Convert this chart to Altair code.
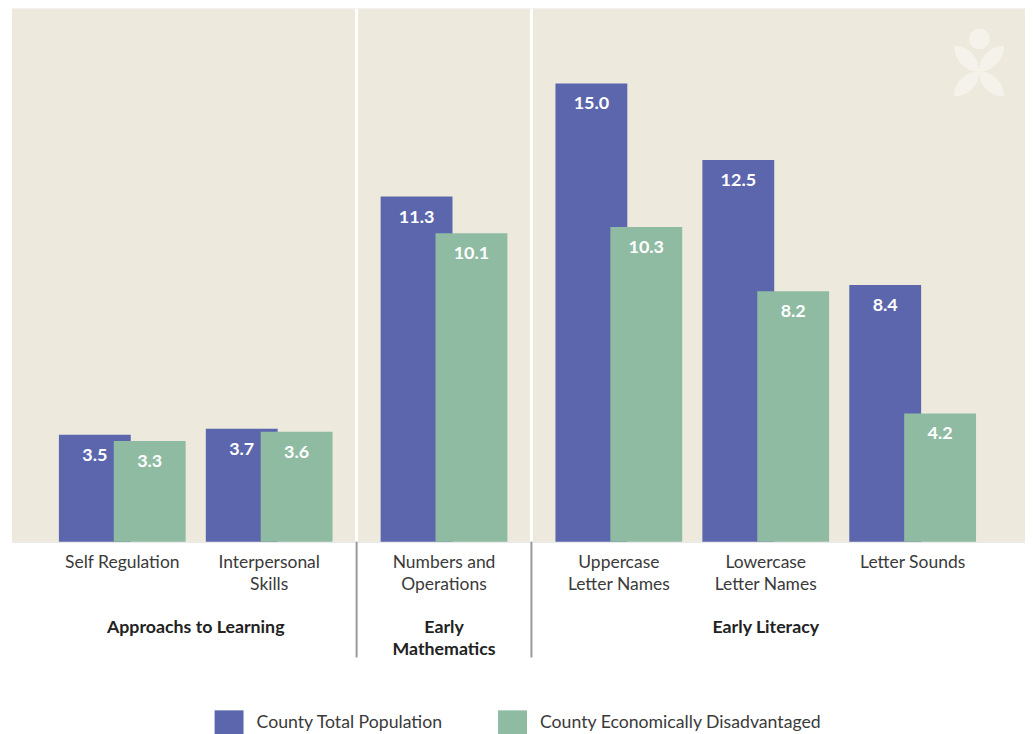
import altair as alt
import pandas as pd

# ---------------- data ----------------
categories = ["Self Regulation", "Interpersonal\nSkills", "Numbers and\nOperations",
              "Uppercase\nLetter Names", "Lowercase\nLetter Names", "Letter Sounds"]
category_group = [0, 0, 1, 2, 2, 2]
groups = ["Approachs to Learning", "Early\nMathematics", "Early Literacy"]
series_names = ["County Total Population", "County Economically Disadvantaged"]
total_pop = [3.5, 3.7, 11.3, 15.0, 12.5, 8.4]
econ_dis = [3.3, 3.6, 10.1, 10.3, 8.2, 4.2]
colors = ["#5c66ad", "#8fbba3"]

BG = "#edeadd"
LOGO = "#f4f2ea"
W, H = 1015, 534
GROUP_GAP = 0.19
X_DOMAIN = [-0.7507, 6.1447]
Y_DOMAIN = [0, 17.45]
FONT = "Lato"

pos = [i + GROUP_GAP * g for i, g in enumerate(category_group)]

rows = []
for c, p, g, a, b in zip(categories, pos, category_group, total_pop, econ_dis):
    rows.append({"cat": c, "pos": p, "series": series_names[0], "value": a})
    rows.append({"cat": c, "pos": p, "series": series_names[1], "value": b})
df = pd.DataFrame(rows)

cat_df = pd.DataFrame({"cat": categories, "pos": pos})
grp_pos = [sum(p for p, g in zip(pos, category_group) if g == k) /
           sum(1 for g in category_group if g == k) for k in range(len(groups))]
grp_df = pd.DataFrame({"grp": groups, "pos": grp_pos})
bounds = []
for k in range(len(groups) - 1):
    last = max(p for p, g in zip(pos, category_group) if g == k)
    first = min(p for p, g in zip(pos, category_group) if g == k + 1)
    bounds.append((last + first) / 2)
sep_df = pd.DataFrame({"pos": bounds})

xs = alt.Scale(domain=X_DOMAIN, nice=False, zero=False, padding=0)
ys = alt.Scale(domain=Y_DOMAIN, nice=False, padding=0)
X = alt.X("pos:Q", scale=xs, axis=None)

color = alt.Color(
    "series:N",
    scale=alt.Scale(domain=series_names, range=colors),
    legend=alt.Legend(
        orient="none", legendX=203, legendY=701, direction="horizontal",
        title=None, padding=0,
        symbolType="M-1,-0.862L1,-0.862L1,0.862L-1,0.862Z", symbolSize=841,
        symbolStrokeWidth=0, symbolOpacity=1,
        labelFont=FONT, labelFontSize=17.7, labelColor="#3a3a3a",
        labelOffset=13, columnPadding=55, labelLimit=500,
    ),
)

base = alt.Chart(df)

bg = alt.Chart(pd.DataFrame({"k": [0]})).mark_rect(color=BG).encode(
    x=alt.value(0), x2=alt.value(W), y=alt.value(0), y2=alt.value(H))

bar_a = base.transform_filter(alt.datum.series == series_names[0]).mark_bar(
    size=72, xOffset=-27.5).encode(x=X, y=alt.Y("value:Q", scale=ys, axis=None), color=color)
bar_b = base.transform_filter(alt.datum.series == series_names[1]).mark_bar(
    size=72, xOffset=27.5).encode(x=X, y=alt.Y("value:Q", scale=ys, axis=None), color=color)

lab_kw = dict(font=FONT, fontSize=18, fontWeight="bold", color="white",
              baseline="alphabetic", dy=26)
lab_a = base.transform_filter(alt.datum.series == series_names[0]).mark_text(
    dx=-27.5, **lab_kw).encode(x=X, y=alt.Y("value:Q", scale=ys),
                               text=alt.Text("value:Q", format=".1f"))
lab_b = base.transform_filter(alt.datum.series == series_names[1]).mark_text(
    dx=27.5, **lab_kw).encode(x=X, y=alt.Y("value:Q", scale=ys),
                              text=alt.Text("value:Q", format=".1f"))

white_sep = alt.Chart(sep_df).mark_rule(color="white", strokeWidth=3).encode(
    x=X, y=alt.value(0), y2=alt.value(H))
gray_sep = alt.Chart(sep_df).mark_rule(color="#9a9a9e", strokeWidth=2).encode(
    x=X, y=alt.value(H), y2=alt.value(H + 116))

cat_text = alt.Chart(cat_df).mark_text(
    font=FONT, fontSize=17.5, color="#3a3a3a", baseline="alphabetic",
    lineBreak="\n", lineHeight=22.5).encode(x=X, y=alt.value(560), text="cat:N")
grp_text = alt.Chart(grp_df).mark_text(
    font=FONT, fontSize=17.8, fontWeight="bold", color="#222222", baseline="alphabetic",
    lineBreak="\n", lineHeight=21.5).encode(x=X, y=alt.value(626), text="grp:N")

# ---- decorative logo (circle + four petals) as one custom symbol ----
U = 34.0
def pt(x, y):
    return f"{x / U:.4f},{y / U:.4f}"

def petal(P, Q):
    k = 0.5523
    R1 = (Q[0], P[1]); R2 = (P[0], Q[1])
    c1 = (P[0] + k * (R2[0] - P[0]), P[1] + k * (R2[1] - P[1]))
    c2 = (Q[0] + k * (R2[0] - Q[0]), Q[1] + k * (R2[1] - Q[1]))
    c3 = (Q[0] + k * (R1[0] - Q[0]), Q[1] + k * (R1[1] - Q[1]))
    c4 = (P[0] + k * (R1[0] - P[0]), P[1] + k * (R1[1] - P[1]))
    return (f"M{pt(*P)}C{pt(*c1)} {pt(*c2)} {pt(*Q)}"
            f"C{pt(*c3)} {pt(*c4)} {pt(*P)}Z")

def circle(cx, cy, r):
    k = 0.5523 * r
    return (f"M{pt(cx - r, cy)}"
            f"C{pt(cx - r, cy - k)} {pt(cx - k, cy - r)} {pt(cx, cy - r)}"
            f"C{pt(cx + k, cy - r)} {pt(cx + r, cy - k)} {pt(cx + r, cy)}"
            f"C{pt(cx + r, cy + k)} {pt(cx + k, cy + r)} {pt(cx, cy + r)}"
            f"C{pt(cx - k, cy + r)} {pt(cx - r, cy + k)} {pt(cx - r, cy)}Z")

inner = (0.0, 9.0)
logo_path = (circle(0.3, -23.7, 10.3) + petal(inner, (-25.0, -17.0)) +
             petal(inner, (25.0, -17.0)) + petal(inner, (-25.0, 34.0)) +
             petal(inner, (25.0, 34.0)))
logo = alt.Chart(pd.DataFrame({"k": [0]})).mark_point(
    shape=logo_path, size=(2 * U) ** 2, filled=True, color=LOGO, opacity=1,
    strokeWidth=0).encode(x=alt.value(969), y=alt.value(54))

chart = alt.layer(
    bg, logo, white_sep, bar_a, bar_b, lab_a, lab_b, gray_sep, cat_text, grp_text
).properties(
    width=W, height=H,
    padding={"left": 4, "top": 0, "right": 0, "bottom": 200},
    autosize=alt.AutoSizeParams(type="none"),
    background="white",
).configure_view(stroke=None).configure(font=FONT)

chart.save("out.html", embed_options={"renderer": "svg", "actions": False})
